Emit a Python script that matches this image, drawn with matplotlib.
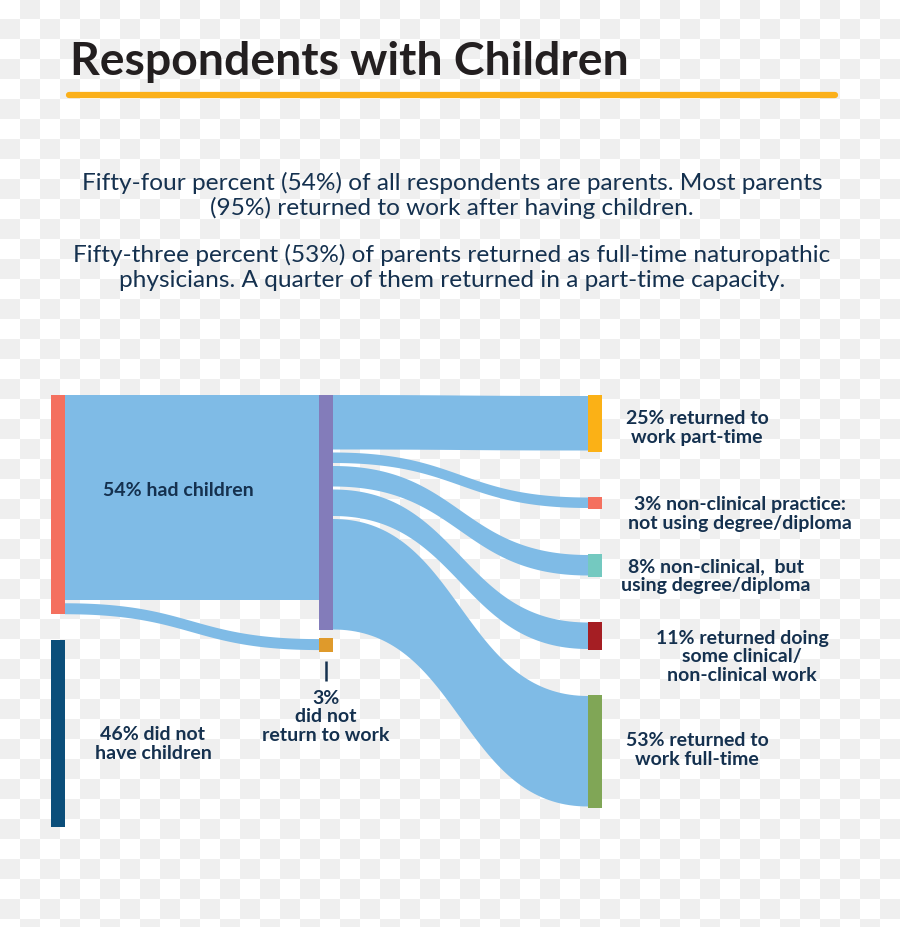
import numpy as np
import matplotlib
matplotlib.use("Agg")
import matplotlib.pyplot as plt

# ----------------------------
# DATA
# ----------------------------
TITLE = "Respondents with Children"
INTRO_LINES = [
    "Fifty-four percent (54%) of all respondents are parents. Most parents",
    "(95%) returned to work after having children.",
    "Fifty-three percent (53%) of parents returned as full-time naturopathic",
    "physicians. A quarter of them returned in a part-time capacity.",
]

LEFT_LABELS = ["54% had children", "46% did not\nhave children"]
LEFT_VALUES = [54, 46]          # % of all respondents

PARENT_SPLIT = [95, 5]          # % of parents: returned / did not return
NOT_RETURNED_LABEL = "3%\ndid not\nreturn to work"
NOT_RETURNED_VALUE = 3

OUTCOME_LABELS = [
    "25% returned to\nwork part-time",
    "3% non-clinical practice:\nnot using degree/diploma",
    "8% non-clinical,  but\nusing degree/diploma",
    "11% returned doing\nsome clinical/\nnon-clinical work",
    "53% returned to\nwork full-time",
]
OUTCOME_VALUES = [25, 3, 8, 11, 53]   # % of parents who returned

# ----------------------------
# STYLE / LAYOUT (pixel units)
# ----------------------------
W, H = 900, 928
FLOW_COLOR = "#7fbbe6"
TEXT_COLOR = "#15314f"
LEFT_COLORS = ["#f4705f", "#0b4e7a"]
MID_COLOR = "#837cba"
NOT_RET_COLOR = "#df9a2b"
OUTCOME_COLORS = ["#fbb116", "#f4705f", "#74c9c0", "#a51e23", "#80a656"]

LEFT_X, MID_X, RIGHT_X, NODE_W = 51, 319, 588, 14
TOP, BOTTOM = 396, 828
LEFT_GAP = 26
FLOW_GAP = 3
RIGHT_GAP = 45
OUT_PX, OUT_MIN = 2.0, 6.5      # band thickness per % plus a minimum

BODY_FONT = ["Lato", "DejaVu Sans"]


def band(ax, x0, x1, t0, b0, t1, b1):
    # horizontal cubic bezier band, control points at mid x
    t = np.linspace(0, 1, 80)
    xs = x0 + (x1 - x0) * (1.5 * t * (1 - t) + t ** 3)
    s = 3 * t ** 2 - 2 * t ** 3
    top = t0 + (t1 - t0) * s
    bot = b0 + (b1 - b0) * s
    ax.fill(np.r_[xs, xs[::-1]], np.r_[top, bot[::-1]],
            color=FLOW_COLOR, lw=0, zorder=2)


fig = plt.figure(figsize=(W / 100, H / 100), dpi=100)
ax = fig.add_axes([0, 0, 1, 1])

# checkerboard backdrop
nr, nc = int(np.ceil(H / 20)), W // 20
checker = np.where((np.add.outer(np.arange(nr), np.arange(nc)) % 2) == 0, 1.0, 0.937)
ax.imshow(checker, cmap="gray", vmin=0, vmax=1, extent=[0, nc * 20, nr * 20, 0],
          interpolation="nearest", aspect="auto", zorder=0)

# ----------------------------
# node sizes from values
# ----------------------------
scale_left = (BOTTOM - TOP - LEFT_GAP) / sum(LEFT_VALUES)
left_h = [v * scale_left for v in LEFT_VALUES]
left_top = [TOP, TOP + left_h[0] + LEFT_GAP]

out_h = [OUT_MIN + OUT_PX * v for v in OUTCOME_VALUES]
out_top = []
y = TOP
for h in out_h:
    out_top.append(y)
    y += h + RIGHT_GAP

# purple node: stack of outflow bands
band_h = [h - 2 for h in out_h]
mid_band_top = []
y = TOP
for h in band_h:
    mid_band_top.append(y)
    y += h + FLOW_GAP
mid_h = y - FLOW_GAP - TOP

nr_top = TOP + mid_h + 8
nr_h = NOT_RETURNED_VALUE * scale_left + 2

# ----------------------------
# flows
# ----------------------------
p_ret = left_h[0] * PARENT_SPLIT[0] / 100 - FLOW_GAP
p_not = left_h[0] * PARENT_SPLIT[1] / 100
band(ax, LEFT_X + NODE_W, MID_X, TOP, TOP + p_ret, TOP, TOP + p_ret)
s0 = TOP + left_h[0] - p_not
e0 = nr_top + (nr_h - p_not) / 2
band(ax, LEFT_X + NODE_W, MID_X, s0, s0 + p_not, e0, e0 + p_not)

for i, h in enumerate(band_h):
    t0 = mid_band_top[i]
    t1 = out_top[i] + 1
    band(ax, MID_X + NODE_W, RIGHT_X, t0, t0 + h, t1, t1 + h)

# ----------------------------
# nodes
# ----------------------------
ax.bar([LEFT_X] * 2, left_h, bottom=left_top, width=NODE_W, align="edge",
       color=LEFT_COLORS, zorder=3)
ax.bar([MID_X, MID_X], [mid_h, nr_h], bottom=[TOP, nr_top], width=NODE_W,
       align="edge", color=[MID_COLOR, NOT_RET_COLOR], zorder=3)
ax.bar([RIGHT_X] * len(out_h), out_h, bottom=out_top, width=NODE_W,
       align="edge", color=OUTCOME_COLORS, zorder=3)

# small tick under the "did not return" node
ax.plot([MID_X + NODE_W / 2] * 2, [nr_top + nr_h + 9, nr_top + nr_h + 29],
        color=TEXT_COLOR, lw=1.8, solid_capstyle="butt", zorder=3)

# ----------------------------
# text
# ----------------------------
lab = dict(color=TEXT_COLOR, fontsize=14, fontweight="bold", family=BODY_FONT,
           ha="center", va="center", linespacing=1.08, zorder=4)
ax.text(178, 491, LEFT_LABELS[0], **lab)
ax.text(153, 744, LEFT_LABELS[1], **lab)
ax.text(326, 717, NOT_RETURNED_LABEL, **lab)
out_pos = [(697, 428), (740, 514), (716, 576), (742, 657), (697, 750)]
for (px, py), txt in zip(out_pos, OUTCOME_LABELS):
    ax.text(px, py, txt, **lab)

ax.text(70, 75, TITLE, color="#231f20", fontsize=33.3, fontweight="bold",
        family=BODY_FONT, ha="left", va="baseline", zorder=4)
ax.plot([69, 835], [96, 96], color="#fbb01a", lw=4.5, solid_capstyle="round", zorder=4)

for yb, line in zip([190, 215, 262, 287], INTRO_LINES):
    ax.text(452, yb, line, color=TEXT_COLOR, fontsize=17.6, family=BODY_FONT,
            ha="center", va="baseline", zorder=4)

ax.set_xlim(0, W)
ax.set_ylim(H, 0)
ax.axis("off")

fig.savefig("out.png", dpi=100)
